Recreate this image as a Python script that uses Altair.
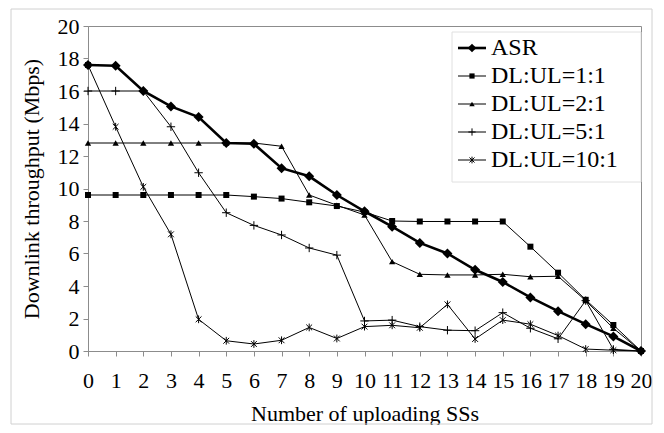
import altair as alt
import pandas as pd

xs = list(range(21))
series_names = ["ASR", "DL:UL=1:1", "DL:UL=2:1", "DL:UL=5:1", "DL:UL=10:1"]
asr = [17.6, 17.55, 16.0, 15.05, 14.4, 12.8, 12.75, 11.25, 10.75, 9.6, 8.6,
       7.65, 6.65, 6.0, 5.0, 4.25, 3.3, 2.45, 1.65, 0.9, 0.0]
dl11 = [9.6, 9.6, 9.6, 9.6, 9.6, 9.6, 9.5, 9.38, 9.15, 8.92, 8.55,
        8.0, 7.97, 7.97, 7.97, 7.97, 6.42, 4.82, 3.15, 1.6, 0.0]
dl21 = [12.8, 12.8, 12.8, 12.8, 12.8, 12.8, 12.8, 12.6, 9.6, 8.97, 8.37,
        5.5, 4.72, 4.68, 4.68, 4.72, 4.57, 4.6, 3.1, 1.4, 0.0]
dl51 = [16.0, 16.0, 16.0, 13.8, 10.97, 8.51, 7.73, 7.14, 6.34, 5.9, 1.85,
        1.9, 1.5, 1.28, 1.25, 2.36, 1.4, 0.75, 3.1, 0.1, 0.0]
dl101 = [17.6, 13.8, 10.1, 7.18, 1.95, 0.63, 0.43, 0.66, 1.45, 0.77, 1.5,
         1.58, 1.43, 2.87, 0.74, 1.9, 1.65, 0.95, 0.12, 0.05, 0.0]
y_ticks = list(range(0, 21, 2))
values = [asr, dl11, dl21, dl51, dl101]

PLUS = "M-1,0L1,0M0,-1L0,1"
STAR = "M-0.75,-0.75L0.75,0.75M-0.75,0.75L0.75,-0.75M0,-1L0,1"
# per-series style: shape, filled, marker size, line width
styles = {
    "ASR": ("diamond", True, 100, 2.6),
    "DL:UL=1:1": ("square", True, 36, 1.0),
    "DL:UL=2:1": ("triangle-up", True, 40, 1.0),
    "DL:UL=5:1": (PLUS, False, 70, 1.0),
    "DL:UL=10:1": (STAR, False, 60, 1.0),
}
FONT = "Liberation Serif"

xenc = alt.X("x:Q", scale=alt.Scale(domain=[0, 20], nice=False),
             axis=alt.Axis(values=xs, title="Number of uploading SSs", labelPadding=14,
                           titlePadding=12, labelFlush=False, labelOverlap=False))
yenc = alt.Y("y:Q", scale=alt.Scale(domain=[0, 20], nice=False),
             axis=alt.Axis(values=y_ticks, title="Downlink throughput (Mbps)",
                           labelPadding=4, titlePadding=14, labelOverlap=False))

main_layers = []
order = [1, 2, 3, 4, 0]  # ASR drawn last, on top
for i in order:
    name = series_names[i]
    shape, filled, size, lw = styles[name]
    d = pd.DataFrame({"x": xs, "y": values[i], "series": name})
    main_layers.append(alt.Chart(d).mark_line(color="black", strokeWidth=lw)
                       .encode(x=xenc, y=yenc))
    main_layers.append(alt.Chart(d).mark_point(
        shape=shape, filled=filled, size=size, color="black",
        strokeWidth=1, opacity=1).encode(x=xenc, y=yenc))
main = alt.layer(*main_layers)

# outer chart-area border and legend box
frame = alt.Chart(pd.DataFrame({"a": [0]})).mark_rect(
    fill="transparent", stroke="#d0d0d0", strokeWidth=1).encode(
    x=alt.value(-77), x2=alt.value(564), y=alt.value(-17), y2=alt.value(398))
legbox = alt.Chart(pd.DataFrame({"a": [0]})).mark_rect(
    fill="white", stroke="#e0e0e0", strokeWidth=1).encode(
    x=alt.value(364), x2=alt.value(553), y=alt.value(6), y2=alt.value(156))

leg_layers = [legbox]
for i, name in enumerate(series_names):
    shape, filled, size, lw = styles[name]
    ld = pd.DataFrame({"series": [name], "pos": [i]})
    ly = alt.Y("pos:O", axis=None,
               scale=alt.Scale(type="point", domain=list(range(5)), range=[22, 134], padding=0))
    leg_layers.append(alt.Chart(ld).mark_rule(color="black", strokeWidth=lw).encode(
        x=alt.value(370), x2=alt.value(398), y=ly))
    leg_layers.append(alt.Chart(ld).mark_point(
        shape=shape, filled=filled, size=size * 0.75, color="black",
        strokeWidth=1, opacity=1).encode(x=alt.value(384), y=ly))
    leg_layers.append(alt.Chart(ld).mark_text(
        align="left", baseline="middle", font=FONT, fontSize=24, color="black").encode(
        x=alt.value(403), y=ly, text="series:N"))
legend = alt.layer(*leg_layers)

chart = alt.layer(frame, main, legend).resolve_scale(y="independent").properties(
    width=553, height=325,
    autosize=alt.AutoSizeParams(type="none"),
    padding={"left": 80, "top": 18, "right": 15, "bottom": 74},
).configure(background="white").configure_view(
    stroke="#8c8c8c", strokeWidth=1
).configure_axis(
    grid=False, labelFontSize=22, titleFontSize=22, tickSize=5,
    labelFont=FONT, titleFont=FONT, titleFontWeight="normal",
    labelColor="black", titleColor="black",
    domainColor="#8c8c8c", tickColor="#8c8c8c",
)

chart.save("out.html", embed_options={"renderer": "svg", "actions": False})
